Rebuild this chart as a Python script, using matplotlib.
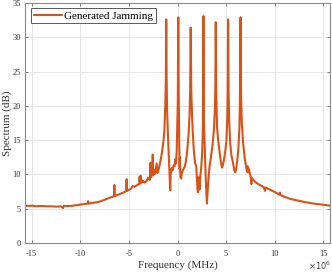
import matplotlib
matplotlib.use("Agg")
import matplotlib.pyplot as plt

plt.rcParams['font.family'] = ['Liberation Serif', 'DejaVu Serif']
plt.rcParams['axes.unicode_minus'] = False

# Traced spectrum: frequency (MHz) and level (dB)
freq_mhz = [
    -15.7, -15.3, -15.0, -14.5, -14.0, -13.5, -13.0, -12.5, -12.0, -11.78, -11.72,
    -11.0, -10.5, -10.0, -9.5, -9.25, -9.2, -9.15, -8.5, -8.0, -7.5, -7.0, -6.55,
    -6.5, -6.45, -6.0, -5.5, -5.27, -5.24, -5.21, -4.8, -4.6, -4.45, -4.2, -3.95, -3.9,
    -3.85, -3.78, -3.72, -3.55, -3.41, -3.2, -3.05, -2.95, -2.85, -2.78, -2.72, -2.6, -2.55,
    -2.5, -2.4, -2.3, -2.15, -2.05, -1.9, -1.75, -1.6, -1.45, -1.35, -1.27, -1.2,
    -1.16, -1.12, -1.07, -0.98, -0.88, -0.8, -0.75, -0.7, -0.6, -0.5, -0.4, -0.3,
    -0.22, -0.15, -0.08, -0.02, 0.03, 0.08, 0.13, 0.18, 0.22, 0.25, 0.3, 0.38,
    0.45, 0.55, 0.65, 0.75, 0.85, 0.95, 1.05, 1.15, 1.25, 1.3, 1.36, 1.42, 1.5,
    1.58, 1.68, 1.8, 1.93, 2.0, 2.04, 2.1, 2.15, 2.2, 2.27, 2.35, 2.45, 2.55,
    2.62, 2.67, 2.72, 2.8, 2.88, 2.95, 3.03, 3.1, 3.2, 3.3, 3.45, 3.6, 3.73,
    3.85, 3.9, 3.94, 3.99, 4.07, 4.17, 4.27, 4.4, 4.52, 4.6, 4.68, 4.78, 4.9,
    5.03, 5.12, 5.17, 5.21, 5.26, 5.33, 5.43, 5.55, 5.7, 5.85, 5.95, 6.05, 6.15,
    6.27, 6.38, 6.44, 6.49, 6.54, 6.62, 6.76, 6.93, 7.05, 7.15, 7.2, 7.27, 7.35,
    7.45, 7.55, 7.6, 7.65, 7.8, 7.95, 8.1, 8.3, 8.48, 8.7, 8.9, 9.0, 9.05, 9.5,
    10.0, 10.5, 10.55, 10.6, 11.0, 11.55, 12.0, 12.6, 13.0, 13.6, 14.0, 14.6,
    15.2, 15.7,
]
level_db = [
    5.45, 5.4, 5.45, 5.35, 5.4, 5.35, 5.35, 5.3, 5.35, 5.1, 5.4,
    5.4, 5.5, 5.6, 5.7, 5.75, 6.1, 5.75, 5.9, 6.05, 6.3, 6.6, 6.8,
    8.45, 6.85, 7.1, 7.4, 7.6, 9.3, 7.6, 7.9, 8.3, 8.2, 8.4, 8.6, 9.7,
    8.7, 9.8, 8.8, 9.1, 8.8, 9.0, 9.5, 9.3, 9.2, 11.7, 9.6, 10.0, 12.9,
    9.9, 10.6, 10.1, 11.6, 10.2, 11.0, 12.0, 13.2, 14.8, 16.4, 19.5, 23.5,
    32.6, 24.0, 19.4, 15.5, 12.3, 9.5, 7.7, 10.2, 10.9, 10.6, 11.3, 11.2,
    12.2, 11.6, 13.5, 17.0, 20.5, 32.9, 21.0, 14.5, 10.8, 12.5, 9.6, 9.4,
    10.2, 10.6, 10.9, 11.1, 11.8, 12.8, 14.3, 16.0, 19.0, 22.0, 31.4, 22.0, 18.5,
    16.0, 13.5, 11.8, 11.1, 9.5, 8.2, 7.4, 9.6, 9.0, 7.8, 9.8, 11.1, 13.5,
    17.5, 33.1, 18.0, 14.0, 10.5, 8.0, 5.75, 7.5, 9.6, 11.2, 12.6, 14.2, 16.2,
    19.5, 23.0, 32.2, 22.0, 17.0, 15.2, 14.0, 12.5, 11.3, 11.0, 11.4, 12.1, 13.2,
    14.8, 18.0, 22.0, 32.6, 22.0, 17.5, 14.5, 12.8, 11.8, 10.6, 10.3, 10.9, 12.0,
    13.8, 17.0, 22.0, 32.9, 22.0, 17.5, 14.5, 12.3, 11.3, 10.4, 11.2, 10.3, 10.8,
    10.1, 9.6, 8.6, 9.5, 9.2, 9.0, 8.8, 8.6, 8.45, 8.3, 8.1, 7.6, 8.1, 7.8,
    7.45, 7.05, 7.35, 7.0, 6.75, 6.47, 6.3, 6.13, 6.0, 5.85, 5.75, 5.65,
    5.55, 5.45,
]

x_ticks = [-15, -10, -5, 0, 5, 10, 15]
y_ticks = [0, 5, 10, 15, 20, 25, 30, 35]
series_label = "Generated Jamming"

fig = plt.figure(figsize=(3.32, 2.73), dpi=100)
ax = fig.add_axes([25 / 332, 30 / 273, 305 / 332, 240 / 273])

ax.plot(freq_mhz, level_db, color='#D95319', lw=1.5, label=series_label,
        solid_joinstyle='round', solid_capstyle='round')

ax.set_xlim(-15.7, 15.7)
ax.set_ylim(0, 35)
ax.set_xticks(x_ticks)
ax.set_yticks(y_ticks)
ax.set_xticklabels([str(v) for v in x_ticks])
ax.set_yticklabels([str(v) for v in y_ticks])

ax.grid(True, color='#e3e3e3', lw=0.6)
ax.set_axisbelow(True)
for s in ax.spines.values():
    s.set_color('#8a8a8a')
    s.set_linewidth(0.8)
ax.tick_params(direction='in', top=True, right=True, length=2.5, width=0.6,
               color='#6a6a6a', labelsize=6, labelcolor='#333333')
ax.tick_params(axis='x', pad=5)
ax.tick_params(axis='y', pad=3)

ax.set_xlabel('Frequency (MHz)', fontsize=8, color='#333333', va='center')
ax.xaxis.set_label_coords(0.5, -22 / 240)
ax.set_ylabel('Spectrum (dB)', fontsize=8, color='#333333', va='center')
ax.yaxis.set_label_coords(-18 / 305, 0.5)

fig.text(331 / 332, 1 - 266 / 273, r'$\times10^{6}$', ha='right', va='center',
         fontsize=6, color='#444444', family='DejaVu Serif')

leg = ax.legend(loc='upper left', bbox_to_anchor=(6 / 305, 1 - 5 / 240),
                borderaxespad=0, fontsize=8, fancybox=False, framealpha=1,
                edgecolor='#5a5a5a', handlelength=2.5, handletextpad=0.2,
                borderpad=0.25)
leg.get_frame().set_linewidth(0.7)

fig.savefig('out.png', dpi=100)
